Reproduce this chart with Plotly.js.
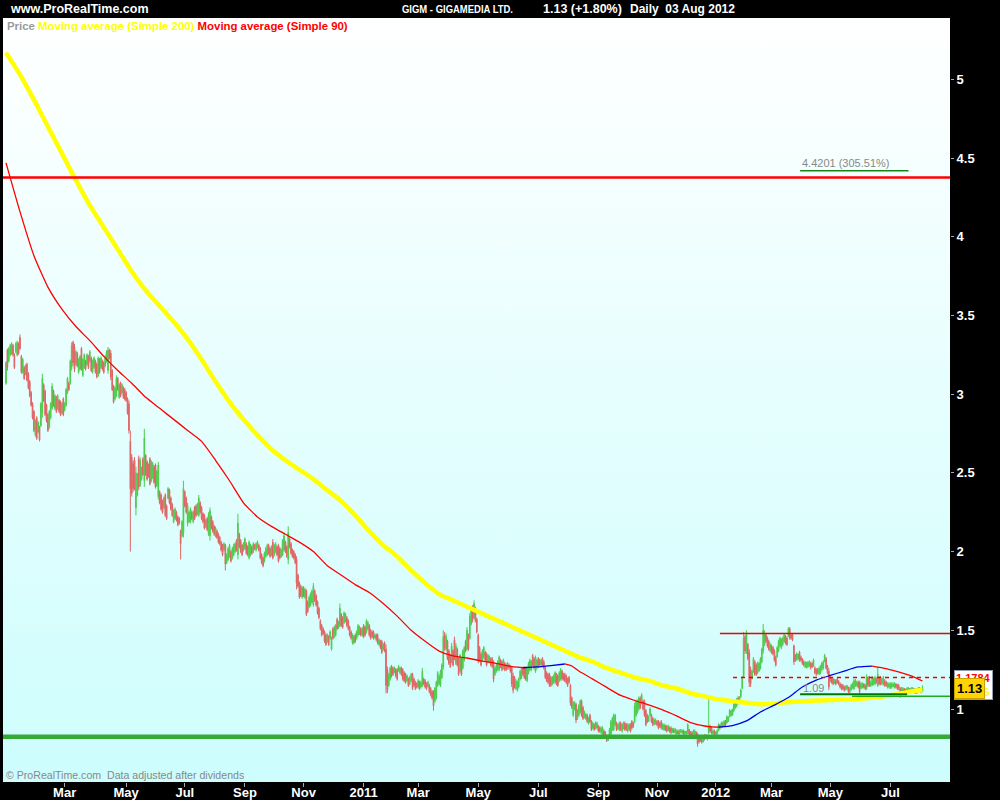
<!DOCTYPE html>
<html><head><meta charset="utf-8">
<script src="https://cdn.plot.ly/plotly-3.0.1.min.js"></script>
<style>
html,body{margin:0;padding:0;background:#000;width:1000px;height:800px;overflow:hidden}
#bg{position:absolute;left:3px;top:18px;width:947px;height:764px;background:linear-gradient(to bottom,#ffffff 0%,#cdfdfd 100%)}
#chart{position:absolute;left:0;top:0;width:1000px;height:800px}
</style></head><body>
<div id="bg"></div><div id="chart"></div>
<script>
// ---- Daily bars (bar index 0 = 28 Dec 2009 ... 656 = 03 Aug 2012) ----
const open = [
3.07,3.28,3.21,3.25,3.26,3.31,3.25,3.27,3.25,3.32,
3.36,3.24,3.14,3.17,3.13,3.19,3.13,3.08,3.01,2.94,
2.89,2.74,2.85,2.76,2.79,2.80,2.88,3.06,3.02,2.93,
2.87,2.79,2.85,2.91,3.02,2.91,2.98,2.91,2.96,2.95,
2.88,2.97,2.90,2.93,3.01,3.07,3.07,3.17,3.33,3.30,
3.19,3.26,3.14,3.16,3.29,3.12,3.17,3.21,3.19,3.24,
3.21,3.23,3.14,3.17,3.21,3.19,3.12,3.22,3.17,3.21,
3.20,3.18,3.21,3.15,3.28,3.26,3.15,3.05,2.97,2.99,
3.10,2.98,3.07,3.01,3.04,3.03,3.01,2.97,2.94,2.70,
2.60,2.56,2.58,2.28,2.36,2.59,2.42,2.46,2.59,2.45,
2.61,2.57,2.55,2.59,2.45,2.47,2.54,2.55,2.42,2.35,
2.38,2.36,2.32,2.28,2.36,2.29,2.34,2.39,2.34,2.30,
2.19,2.21,2.25,2.22,2.21,2.13,2.10,2.12,2.38,2.34,
2.18,2.19,2.19,2.25,2.19,2.28,2.29,2.24,2.23,2.31,
2.28,2.24,2.23,2.16,2.21,2.11,2.10,2.22,2.19,2.16,
2.10,2.13,2.11,2.09,2.06,2.04,2.01,2.04,1.93,1.95,
1.97,2.00,1.96,1.98,2.00,2.07,1.98,2.11,2.07,2.04,
2.01,2.02,2.05,2.03,1.96,1.98,2.03,2.00,2.04,2.01,
2.03,2.04,2.02,1.98,1.96,1.94,1.97,1.98,2.04,2.02,
1.98,2.06,1.98,2.00,2.03,2.04,2.02,1.97,1.98,2.01,
2.06,2.03,1.95,2.08,2.05,2.01,2.00,1.98,1.95,1.85,
1.80,1.78,1.71,1.77,1.71,1.75,1.68,1.65,1.66,1.68,
1.66,1.75,1.72,1.68,1.64,1.56,1.53,1.51,1.49,1.47,
1.43,1.46,1.45,1.38,1.51,1.46,1.47,1.57,1.52,1.53,
1.60,1.58,1.55,1.56,1.58,1.56,1.52,1.49,1.42,1.42,
1.47,1.45,1.47,1.48,1.51,1.47,1.53,1.52,1.49,1.51,
1.53,1.50,1.49,1.49,1.45,1.47,1.47,1.41,1.43,1.43,
1.38,1.42,1.38,1.25,1.15,1.19,1.27,1.26,1.23,1.25,
1.25,1.24,1.23,1.26,1.25,1.23,1.22,1.18,1.19,1.16,
1.18,1.22,1.19,1.17,1.16,1.14,1.17,1.14,1.15,1.19,
1.18,1.16,1.14,1.15,1.13,1.11,1.10,1.05,1.07,1.15,
1.16,1.15,1.20,1.27,1.47,1.38,1.43,1.37,1.34,1.30,
1.37,1.44,1.29,1.38,1.32,1.24,1.32,1.26,1.31,1.43,
1.38,1.47,1.45,1.54,1.65,1.58,1.64,1.57,1.47,1.39,
1.35,1.31,1.33,1.36,1.35,1.30,1.30,1.32,1.32,1.30,
1.22,1.24,1.25,1.25,1.31,1.30,1.26,1.29,1.28,1.26,
1.28,1.27,1.26,1.21,1.20,1.13,1.12,1.14,1.19,1.20,
1.26,1.26,1.26,1.18,1.23,1.25,1.25,1.34,1.32,1.24,
1.26,1.32,1.31,1.28,1.32,1.30,1.26,1.23,1.22,1.22,
1.20,1.16,1.17,1.17,1.22,1.21,1.18,1.19,1.24,1.22,
1.22,1.21,1.19,1.20,1.15,1.07,0.96,1.00,1.03,0.94,
0.96,0.98,1.05,1.01,0.95,0.94,0.96,0.91,0.96,0.92,
0.88,0.90,0.88,0.88,0.89,0.88,0.85,0.84,0.86,0.85,
0.82,0.80,0.83,0.84,0.87,0.87,0.90,0.91,0.87,0.87,
0.91,0.86,0.88,0.91,0.90,0.86,0.87,0.90,0.92,0.91,
0.92,0.96,0.98,1.00,1.07,1.04,1.05,1.05,0.99,0.96,
0.92,0.96,0.96,0.94,0.90,0.91,0.92,0.92,0.91,0.92,
0.87,0.87,0.89,0.89,0.86,0.88,0.88,0.85,0.87,0.85,
0.84,0.86,0.84,0.85,0.85,0.86,0.84,0.84,0.85,0.87,
0.85,0.85,0.84,0.84,0.85,0.84,0.81,0.82,0.81,0.79,
0.83,0.81,0.81,0.85,0.89,0.88,0.84,0.86,0.83,0.84,
0.86,0.90,0.88,0.89,0.89,0.92,0.91,0.92,0.95,0.96,
0.96,0.99,1.01,1.02,1.07,1.04,1.08,1.13,1.21,1.46,
1.36,1.41,1.36,1.25,1.19,1.24,1.30,1.28,1.23,1.24,
1.26,1.30,1.37,1.41,1.47,1.45,1.43,1.37,1.40,1.39,
1.37,1.33,1.33,1.37,1.40,1.39,1.41,1.43,1.46,1.45,
1.46,1.51,1.47,1.47,1.40,1.34,1.31,1.32,1.36,1.33,
1.32,1.30,1.27,1.26,1.27,1.27,1.29,1.29,1.27,1.26,
1.25,1.25,1.22,1.23,1.25,1.26,1.30,1.32,1.27,1.24,
1.20,1.19,1.19,1.16,1.18,1.19,1.18,1.16,1.15,1.15,
1.14,1.12,1.13,1.14,1.11,1.12,1.13,1.13,1.15,1.15,
1.17,1.17,1.13,1.14,1.16,1.15,1.13,1.20,1.20,1.15,
1.15,1.16,1.16,1.19,1.15,1.20,1.20,1.16,1.16,1.18,
1.17,1.14,1.14,1.13,1.14,1.14,1.14,1.16,1.15,1.15,
1.13,1.10,1.11,1.13,1.12,1.10,1.11,1.13,1.11,1.12,
1.13,1.12,1.10,1.11,1.12,1.13,1.11];
const high = [
3.21,3.29,3.30,3.32,3.33,3.32,3.26,3.33,3.34,3.33,
3.38,3.25,3.23,3.18,3.19,3.20,3.14,3.09,3.02,2.95,
2.90,2.84,2.86,2.83,2.80,2.95,3.13,3.07,3.03,2.94,
2.88,2.90,2.95,3.07,3.03,3.00,2.99,3.00,2.97,2.96,
2.95,2.98,2.95,3.04,3.11,3.08,3.22,3.33,3.34,3.32,
3.28,3.27,3.23,3.25,3.30,3.23,3.26,3.22,3.26,3.25,
3.28,3.24,3.22,3.24,3.22,3.20,3.24,3.23,3.24,3.22,
3.21,3.25,3.28,3.30,3.29,3.28,3.16,3.06,3.05,3.12,
3.11,3.07,3.08,3.07,3.05,3.04,3.02,2.98,2.96,2.77,
2.62,2.58,2.60,2.54,2.50,2.61,2.60,2.54,2.60,2.78,
2.62,2.58,2.56,2.60,2.58,2.57,2.55,2.56,2.52,2.57,
2.39,2.37,2.33,2.35,2.37,2.30,2.41,2.40,2.35,2.31,
2.27,2.28,2.26,2.23,2.22,2.14,2.20,2.45,2.39,2.35,
2.31,2.26,2.28,2.26,2.26,2.29,2.30,2.31,2.36,2.32,
2.29,2.25,2.24,2.21,2.22,2.25,2.28,2.23,2.20,2.17,
2.16,2.14,2.12,2.10,2.07,2.05,2.06,2.05,1.99,2.03,
2.05,2.01,2.03,2.05,2.06,2.08,2.24,2.12,2.08,2.05,
2.06,2.09,2.06,2.04,2.07,2.05,2.04,2.06,2.05,2.06,
2.07,2.05,2.03,1.99,1.97,2.00,2.03,2.05,2.05,2.03,
2.04,2.08,2.05,2.06,2.04,2.05,2.03,2.02,2.08,2.12,
2.07,2.04,2.16,2.09,2.06,2.02,2.01,1.99,1.97,1.86,
1.81,1.79,1.78,1.78,1.77,1.76,1.69,1.72,1.74,1.76,
1.80,1.76,1.73,1.69,1.65,1.57,1.54,1.52,1.50,1.48,
1.48,1.47,1.50,1.46,1.52,1.53,1.54,1.58,1.56,1.67,
1.61,1.59,1.62,1.61,1.59,1.57,1.53,1.50,1.48,1.47,
1.48,1.50,1.54,1.53,1.52,1.52,1.54,1.53,1.57,1.56,
1.54,1.51,1.50,1.50,1.48,1.48,1.48,1.45,1.44,1.44,
1.42,1.43,1.41,1.27,1.23,1.27,1.28,1.27,1.27,1.26,
1.26,1.28,1.27,1.27,1.26,1.24,1.23,1.22,1.20,1.21,
1.23,1.23,1.20,1.18,1.17,1.19,1.18,1.18,1.26,1.20,
1.19,1.17,1.18,1.16,1.14,1.12,1.12,1.14,1.18,1.24,
1.22,1.25,1.29,1.50,1.49,1.48,1.44,1.38,1.35,1.42,
1.38,1.46,1.42,1.39,1.33,1.35,1.33,1.38,1.40,1.44,
1.52,1.48,1.61,1.65,1.66,1.69,1.65,1.58,1.48,1.40,
1.36,1.38,1.40,1.37,1.36,1.35,1.34,1.33,1.33,1.31,
1.27,1.29,1.31,1.34,1.32,1.31,1.32,1.30,1.29,1.30,
1.29,1.28,1.27,1.23,1.21,1.19,1.18,1.20,1.25,1.26,
1.27,1.27,1.27,1.27,1.30,1.32,1.31,1.35,1.33,1.34,
1.32,1.33,1.32,1.32,1.33,1.31,1.27,1.24,1.23,1.23,
1.21,1.21,1.22,1.24,1.23,1.22,1.24,1.26,1.25,1.23,
1.23,1.22,1.20,1.21,1.16,1.08,1.05,1.05,1.04,1.00,
1.03,1.06,1.06,1.02,0.99,0.97,0.97,0.95,0.97,0.93,
0.92,0.91,0.92,0.92,0.90,0.89,0.89,0.89,0.87,0.86,
0.83,0.84,0.88,0.93,0.95,0.97,0.97,0.92,0.91,0.92,
0.92,0.91,0.92,0.92,0.91,0.91,0.91,0.91,0.93,0.92,
1.04,1.06,1.06,1.08,1.08,1.10,1.06,1.06,1.00,0.97,
0.96,1.01,0.97,0.95,0.94,0.94,0.93,0.93,0.92,0.93,
0.91,0.91,0.90,0.90,0.90,0.89,0.89,0.88,0.88,0.88,
0.87,0.87,0.87,0.87,0.87,0.87,0.86,0.86,0.91,0.87,
0.86,0.86,0.87,0.87,0.86,0.85,0.82,0.83,0.82,0.82,
0.84,0.84,0.83,1.07,0.90,0.89,0.87,0.87,0.86,0.87,
0.91,0.90,0.92,0.92,0.93,0.93,0.96,0.95,1.00,0.99,
1.00,1.04,1.06,1.07,1.08,1.08,1.13,1.21,1.49,1.47,
1.50,1.42,1.38,1.27,1.25,1.33,1.31,1.29,1.30,1.30,
1.33,1.39,1.54,1.50,1.48,1.46,1.44,1.42,1.41,1.40,
1.38,1.34,1.40,1.44,1.46,1.45,1.46,1.48,1.47,1.46,
1.52,1.52,1.48,1.48,1.41,1.35,1.36,1.35,1.37,1.34,
1.32,1.31,1.30,1.30,1.30,1.31,1.30,1.30,1.32,1.27,
1.26,1.26,1.27,1.28,1.30,1.31,1.35,1.33,1.28,1.26,
1.21,1.20,1.20,1.19,1.19,1.20,1.18,1.17,1.16,1.16,
1.15,1.15,1.15,1.14,1.14,1.16,1.17,1.19,1.19,1.18,
1.18,1.18,1.17,1.17,1.16,1.16,1.22,1.21,1.21,1.18,
1.21,1.20,1.21,1.20,1.27,1.21,1.21,1.20,1.21,1.19,
1.18,1.17,1.17,1.17,1.17,1.17,1.17,1.16,1.16,1.16,
1.14,1.14,1.14,1.13,1.13,1.14,1.14,1.13,1.14,1.14,
1.13,1.13,1.13,1.14,1.14,1.13,1.15];
const low = [
3.06,3.15,3.20,3.24,3.25,3.24,3.16,3.26,3.24,3.25,
3.28,3.13,3.13,3.09,3.12,3.08,3.03,2.98,2.92,2.84,
2.76,2.73,2.71,2.75,2.70,2.79,2.85,2.95,2.86,2.82,
2.76,2.78,2.84,2.90,2.92,2.90,2.88,2.90,2.88,2.86,
2.87,2.86,2.89,2.92,3.00,3.02,3.06,3.15,3.18,3.14,
3.18,3.17,3.13,3.15,3.15,3.11,3.16,3.15,3.18,3.16,
3.20,3.14,3.13,3.16,3.13,3.10,3.11,3.13,3.16,3.15,
3.13,3.17,3.20,3.13,3.22,3.09,3.02,2.94,2.96,2.98,
3.02,2.97,2.98,3.00,2.97,2.96,2.95,2.87,2.75,2.00,
2.35,2.38,2.39,2.23,2.35,2.39,2.41,2.45,2.48,2.41,
2.48,2.45,2.47,2.42,2.44,2.46,2.43,2.40,2.41,2.33,
2.30,2.26,2.24,2.27,2.22,2.20,2.33,2.30,2.26,2.22,
2.18,2.20,2.19,2.16,2.17,1.95,2.09,2.09,2.28,2.24,
2.16,2.18,2.18,2.20,2.18,2.20,2.22,2.23,2.22,2.24,
2.20,2.18,2.14,2.15,2.13,2.10,2.07,2.14,2.12,2.10,
2.09,2.08,2.05,2.04,2.00,1.97,2.00,1.88,1.92,1.94,
1.96,1.93,1.95,1.97,1.99,2.00,1.95,2.02,1.99,1.97,
2.00,2.01,1.98,1.97,1.95,1.97,1.98,1.99,2.01,2.00,
2.02,2.00,1.95,1.92,1.90,1.93,1.96,1.97,1.98,1.96,
1.97,1.95,1.97,1.99,1.97,1.93,1.95,1.96,1.97,2.00,
1.99,1.96,1.92,2.02,1.98,1.96,1.95,1.92,1.76,1.77,
1.70,1.71,1.70,1.71,1.70,1.59,1.61,1.64,1.65,1.67,
1.65,1.68,1.65,1.60,1.57,1.50,1.46,1.47,1.42,1.40,
1.42,1.40,1.44,1.37,1.44,1.45,1.46,1.50,1.51,1.52,
1.52,1.51,1.54,1.55,1.52,1.50,1.46,1.44,1.41,1.41,
1.42,1.44,1.46,1.47,1.46,1.46,1.45,1.46,1.48,1.50,
1.46,1.44,1.45,1.44,1.45,1.43,1.41,1.40,1.38,1.35,
1.37,1.36,1.10,1.10,1.14,1.18,1.20,1.21,1.23,1.20,
1.18,1.24,1.22,1.21,1.18,1.17,1.16,1.17,1.14,1.15,
1.17,1.12,1.14,1.12,1.13,1.13,1.12,1.13,1.14,1.15,
1.13,1.12,1.14,1.10,1.08,1.06,0.99,1.04,1.06,1.14,
1.15,1.14,1.19,1.25,1.37,1.37,1.31,1.28,1.26,1.29,
1.27,1.31,1.28,1.27,1.21,1.23,1.21,1.25,1.30,1.36,
1.37,1.37,1.44,1.53,1.55,1.57,1.55,1.48,1.29,1.30,
1.27,1.30,1.32,1.30,1.27,1.29,1.29,1.27,1.26,1.17,
1.21,1.23,1.24,1.24,1.26,1.24,1.25,1.24,1.24,1.25,
1.25,1.23,1.14,1.10,1.13,1.12,1.11,1.13,1.18,1.19,
1.21,1.19,1.18,1.17,1.22,1.24,1.24,1.27,1.25,1.23,
1.25,1.26,1.27,1.27,1.27,1.25,1.19,1.17,1.16,1.14,
1.14,1.15,1.16,1.16,1.15,1.14,1.17,1.18,1.18,1.18,
1.17,1.16,1.14,1.16,1.02,1.00,0.95,0.99,0.91,0.93,
0.95,0.97,0.95,0.93,0.94,0.93,0.91,0.90,0.91,0.86,
0.87,0.86,0.87,0.87,0.85,0.85,0.84,0.83,0.82,0.81,
0.79,0.80,0.82,0.83,0.86,0.86,0.89,0.86,0.87,0.86,
0.86,0.85,0.87,0.86,0.86,0.85,0.86,0.85,0.87,0.88,
0.91,0.95,0.97,0.99,1.00,1.03,0.99,0.95,0.89,0.91,
0.92,0.95,0.91,0.89,0.90,0.90,0.89,0.87,0.88,0.87,
0.87,0.86,0.86,0.85,0.86,0.85,0.84,0.85,0.85,0.84,
0.84,0.84,0.84,0.85,0.84,0.84,0.84,0.84,0.84,0.83,
0.83,0.82,0.84,0.84,0.82,0.76,0.78,0.79,0.78,0.79,
0.80,0.81,0.80,0.84,0.85,0.84,0.84,0.83,0.83,0.84,
0.86,0.87,0.88,0.88,0.89,0.89,0.91,0.92,0.95,0.95,
0.96,0.98,1.00,1.01,1.03,1.03,1.07,1.13,1.20,1.35,
1.35,1.31,1.14,1.14,1.19,1.23,1.21,1.21,1.22,1.24,
1.25,1.29,1.35,1.40,1.42,1.39,1.37,1.36,1.35,1.34,
1.30,1.27,1.33,1.36,1.39,1.38,1.40,1.42,1.41,1.40,
1.46,1.44,1.44,1.43,1.28,1.30,1.31,1.31,1.30,1.30,
1.28,1.27,1.26,1.26,1.26,1.27,1.25,1.26,1.27,1.22,
1.21,1.22,1.22,1.22,1.24,1.25,1.30,1.25,1.22,1.12,
1.17,1.16,1.15,1.16,1.15,1.16,1.15,1.13,1.12,1.12,
1.11,1.12,1.12,1.10,1.10,1.12,1.13,1.12,1.14,1.14,
1.13,1.09,1.13,1.13,1.13,1.12,1.12,1.14,1.14,1.14,
1.15,1.15,1.15,1.16,1.14,1.15,1.15,1.15,1.15,1.14,
1.14,1.13,1.13,1.13,1.13,1.14,1.13,1.13,1.12,1.12,
1.07,1.10,1.11,1.10,1.09,1.10,1.11,1.10,1.11,1.11,
1.10,1.10,1.10,1.11,1.11,1.10,1.11];
const close = [
3.20,3.17,3.29,3.31,3.32,3.25,3.17,3.32,3.33,3.26,
3.29,3.14,3.22,3.10,3.18,3.09,3.04,2.99,2.93,2.85,
2.77,2.83,2.72,2.82,2.71,2.94,3.10,2.96,2.87,2.83,
2.77,2.89,2.94,3.05,2.93,2.99,2.89,2.99,2.89,2.87,
2.94,2.87,2.94,3.03,3.10,3.03,3.21,3.31,3.20,3.16,
3.27,3.18,3.22,3.24,3.16,3.22,3.25,3.16,3.25,3.17,
3.27,3.15,3.21,3.23,3.14,3.11,3.23,3.14,3.23,3.16,
3.14,3.24,3.27,3.28,3.23,3.11,3.03,2.95,3.04,3.10,
3.03,3.06,2.99,3.06,2.98,2.97,2.96,2.88,2.77,2.40,
2.37,2.40,2.41,2.50,2.49,2.41,2.58,2.53,2.49,2.72,
2.49,2.46,2.48,2.43,2.57,2.56,2.44,2.41,2.51,2.55,
2.31,2.27,2.25,2.34,2.23,2.21,2.40,2.31,2.27,2.23,
2.26,2.27,2.20,2.17,2.18,2.05,2.19,2.40,2.29,2.25,
2.29,2.25,2.27,2.21,2.25,2.21,2.23,2.30,2.34,2.25,
2.21,2.19,2.15,2.20,2.14,2.23,2.26,2.15,2.13,2.11,
2.15,2.09,2.06,2.05,2.01,1.98,2.05,1.92,1.98,2.02,
2.04,1.94,2.02,2.04,2.05,2.01,2.18,2.03,2.00,1.98,
2.05,2.08,1.99,1.98,2.06,2.04,1.99,2.05,2.02,2.05,
2.06,2.01,1.96,1.93,1.91,1.99,2.02,2.04,1.99,1.97,
2.03,1.96,2.04,2.05,1.98,1.94,1.96,2.01,2.07,2.10,
2.00,1.97,2.12,2.03,1.99,1.97,1.96,1.93,1.80,1.78,
1.71,1.72,1.77,1.72,1.76,1.60,1.62,1.71,1.73,1.75,
1.78,1.69,1.66,1.61,1.58,1.51,1.47,1.48,1.43,1.41,
1.47,1.41,1.49,1.45,1.45,1.52,1.53,1.51,1.55,1.64,
1.53,1.52,1.61,1.60,1.53,1.51,1.47,1.45,1.47,1.46,
1.43,1.49,1.53,1.52,1.47,1.51,1.46,1.47,1.56,1.55,
1.47,1.45,1.46,1.45,1.47,1.44,1.42,1.44,1.39,1.36,
1.41,1.37,1.15,1.12,1.22,1.26,1.21,1.22,1.26,1.21,
1.19,1.27,1.26,1.22,1.19,1.18,1.17,1.21,1.15,1.20,
1.22,1.13,1.15,1.13,1.14,1.18,1.13,1.17,1.24,1.16,
1.14,1.13,1.17,1.11,1.09,1.07,1.02,1.13,1.17,1.23,
1.21,1.24,1.28,1.46,1.39,1.46,1.32,1.29,1.27,1.40,
1.28,1.33,1.40,1.28,1.22,1.34,1.22,1.37,1.39,1.37,
1.50,1.38,1.59,1.63,1.57,1.67,1.56,1.49,1.31,1.31,
1.28,1.37,1.39,1.31,1.28,1.34,1.33,1.28,1.27,1.19,
1.26,1.28,1.30,1.33,1.27,1.25,1.31,1.25,1.25,1.29,
1.26,1.24,1.16,1.12,1.14,1.18,1.17,1.19,1.24,1.25,
1.22,1.20,1.19,1.26,1.29,1.31,1.30,1.28,1.26,1.33,
1.31,1.27,1.28,1.31,1.28,1.26,1.20,1.18,1.17,1.15,
1.15,1.20,1.21,1.23,1.16,1.15,1.23,1.25,1.19,1.19,
1.18,1.17,1.15,1.17,1.04,1.01,1.04,1.04,0.93,0.99,
1.02,1.05,0.96,0.94,0.98,0.97,0.92,0.94,0.92,0.87,
0.91,0.87,0.91,0.91,0.86,0.86,0.88,0.88,0.83,0.82,
0.80,0.83,0.87,0.92,0.94,0.96,0.96,0.87,0.90,0.91,
0.87,0.90,0.91,0.87,0.87,0.90,0.90,0.86,0.88,0.89,
1.02,1.05,1.05,1.07,1.01,1.09,1.00,0.96,0.90,0.92,
0.95,1.00,0.92,0.90,0.93,0.93,0.90,0.88,0.89,0.88,
0.90,0.90,0.87,0.86,0.89,0.86,0.85,0.87,0.85,0.87,
0.86,0.84,0.86,0.87,0.86,0.84,0.86,0.86,0.90,0.84,
0.83,0.83,0.86,0.86,0.83,0.78,0.79,0.80,0.79,0.81,
0.81,0.83,0.83,0.89,0.86,0.85,0.86,0.84,0.85,0.86,
0.90,0.88,0.91,0.91,0.92,0.90,0.95,0.95,0.99,0.99,
1.00,1.03,1.05,1.06,1.04,1.08,1.12,1.20,1.45,1.37,
1.48,1.32,1.17,1.16,1.24,1.32,1.22,1.22,1.29,1.29,
1.32,1.38,1.50,1.48,1.43,1.40,1.38,1.41,1.36,1.35,
1.31,1.28,1.39,1.43,1.45,1.44,1.45,1.47,1.42,1.41,
1.51,1.45,1.45,1.44,1.30,1.31,1.35,1.35,1.31,1.31,
1.29,1.28,1.30,1.29,1.30,1.30,1.26,1.27,1.31,1.23,
1.22,1.23,1.26,1.27,1.29,1.30,1.34,1.26,1.23,1.14,
1.18,1.17,1.16,1.18,1.16,1.17,1.16,1.14,1.13,1.13,
1.12,1.14,1.15,1.11,1.13,1.15,1.16,1.18,1.18,1.17,
1.14,1.11,1.16,1.16,1.14,1.13,1.20,1.15,1.15,1.17,
1.20,1.19,1.20,1.17,1.22,1.16,1.16,1.19,1.20,1.15,
1.15,1.16,1.16,1.16,1.16,1.16,1.16,1.14,1.13,1.13,
1.09,1.13,1.13,1.11,1.10,1.13,1.13,1.11,1.13,1.13,
1.11,1.10,1.12,1.13,1.13,1.11,1.13];

// ---- Moving averages (bar index, price) ----
const ma200Idx = [0,10,20,30,40,50,60,70,80,90,100,110,120,130,140,150,160,170,180,190,200,210,220,230,240,250,260,270,280,290,300,310,320,330,340,350,360,370,380,390,400,410,420,430,440,450,460,470,480,490,500,510,520,530,540,550,560,570,580,590,600,610,620,630,640,650,656];
const ma200 = [5.17,5.03,4.87,4.70,4.53,4.36,4.20,4.06,3.92,3.78,3.66,3.56,3.46,3.35,3.22,3.08,2.95,2.84,2.74,2.65,2.58,2.52,2.46,2.39,2.32,2.23,2.13,2.04,1.97,1.88,1.80,1.73,1.69,1.65,1.61,1.57,1.53,1.49,1.45,1.41,1.37,1.33,1.30,1.26,1.23,1.20,1.18,1.15,1.13,1.10,1.08,1.06,1.05,1.04,1.03,1.035,1.044,1.048,1.054,1.057,1.060,1.064,1.073,1.083,1.098,1.114,1.12];
const ma90Idx = [0,10,20,30,40,50,60,70,80,90,100,110,120,130,140,150,160,170,180,190,200,210,220,230,240,250,260,270,280,290,300,310,320,330,340,350,360,370,380,390,400,405,410,420,430,440,450,460,470,480,490,500,505,510,520,530,540,550,560,570,580,590,600,610,620,630,640,650,656];
const ma90 = [4.47,4.16,3.88,3.68,3.54,3.43,3.34,3.24,3.15,3.07,2.98,2.91,2.84,2.77,2.70,2.58,2.45,2.31,2.22,2.16,2.11,2.06,2.00,1.91,1.85,1.79,1.74,1.67,1.59,1.50,1.43,1.368,1.337,1.324,1.306,1.292,1.273,1.262,1.267,1.276,1.286,1.273,1.241,1.19,1.137,1.086,1.054,1.026,0.994,0.956,0.914,0.892,0.886,0.885,0.895,0.924,0.981,1.025,1.073,1.140,1.184,1.213,1.241,1.267,1.273,1.257,1.232,1.203,1.178];

// ---- Axis ticks ----
const monthTickIdx = [42,86,128,171,213,256,295,338,381,424,466,508,548,590,633];
const monthTickText = ['Mar','May','Jul','Sep','Nov','2011','Mar','May','Jul','Sep','Nov','2012','Mar','May','Jul'];
const priceTicks = [1,1.5,2,2.5,3,3.5,4,4.5,5];
const priceTickText = ['1','1.5','2','2.5','3','3.5','4','4.5','5'];

// ---- Drawn levels (price) and their start/end bars ----
const levelNames  = ['resistance','support','range top','range mid','support 1.09','support low','target'];
const levelPrices = [4.376, 0.824, 1.48, 1.20, 1.093, 1.081, 4.4201];
const levelStart  = [-2.15, -2.15, 511, 520.4, 568.4, 605.6, 568.4];
const levelEnd    = [675.7, 675.7, 675.7, 675.7, 645, 675.7, 646];
const lastValues = {ma90:'1.1784', ma200:'1.0996', price:'1.13'};

const FONT = 'Liberation Sans, Arial, Helvetica, sans-serif';
const X0 = 3, X1 = 950, Y0 = 18, Y1 = 782;
const px = X => (X - X0) / (X1 - X0);
const py = Y => (Y1 - Y) / (Y1 - Y0);
const GREEN = '#4dcc4d', RED = '#e06464';

const idx = open.map((_, i) => i);
const traces = [{
  type: 'candlestick', x: idx, open: open, high: high, low: low, close: close,
  increasing: {line: {color: GREEN, width: 1}, fillcolor: GREEN},
  decreasing: {line: {color: RED, width: 1}, fillcolor: RED},
  whiskerwidth: 0, hoverinfo: 'skip', showlegend: false
}, {
  type: 'scatter', mode: 'lines', x: ma200Idx, y: ma200,
  line: {color: '#ffff00', width: 4.5, shape: 'spline', smoothing: 0.8},
  hoverinfo: 'skip', showlegend: false
}];
// MA90: blue while rising, red while falling
let seg = null;
for (let k = 0; k < ma90.length - 1; k++) {
  const col = ma90[k + 1] > ma90[k] ? '#0000dd' : '#ff0000';
  if (!seg || seg.line.color !== col) {
    seg = {type: 'scatter', mode: 'lines', x: [ma90Idx[k]], y: [ma90[k]],
           line: {color: col, width: 1.3, shape: 'spline', smoothing: 0.5}, hoverinfo: 'skip', showlegend: false};
    traces.push(seg);
  }
  seg.x.push(ma90Idx[k + 1]); seg.y.push(ma90[k + 1]);
}

const lvStyle = [
  {color: '#ff0000', width: 2.5},
  {color: '#33aa33', width: 4.5},
  {color: '#ee0000', width: 1.5},
  {color: '#ee0000', width: 1.5, dash: '4px,4px'},
  {color: '#007700', width: 2},
  {color: '#22aa22', width: 1.5},
  {color: '#118811', width: 1.5}
];
const shapes = levelPrices.map((p, k) => ({
  type: 'line', xref: 'x', yref: 'y', x0: levelStart[k], x1: levelEnd[k], y0: p, y1: p,
  line: lvStyle[k], layer: 'above'
}));

const txt = (t, X, Y, size, color) => ({
  text: t, xref: 'paper', yref: 'paper', x: px(X), y: py(Y), xanchor: 'left', yanchor: 'middle',
  showarrow: false, font: {family: FONT, size: size, color: color}, borderpad: 0
});

const annotations = [
  txt('<b>www.ProRealTime.com</b>', 9, 9, 12.5, '#ffffff'),
  txt('<b>GIGM - GIGAMEDIA LTD.</b>', 392, 9, 11, '#ffffff'),
  txt('<b>1.13 (+1.80%)</b>', 542, 9, 12.5, '#ffffff'),
  txt('<b>Daily\u00a0 03 Aug 2012</b>', 629, 9, 12, '#ffffff'),
  txt('<b><span style="color:#999999">Price</span> <span style="color:#ffff00">Moving average (Simple 200)</span> <span style="color:#ff0000">Moving average (Simple 90)</span></b>', 6, 26, 11.4, '#999999'),
  txt('\u00a9 ProRealTime.com\u00a0 Data adjusted after dividends', 5, 775, 10.6, '#888888'),
  txt(levelPrices[6].toFixed(4) + ' (305.51%)', 801, 163, 11, '#888888'),
  txt(levelPrices[4].toFixed(2), 802, 688, 11, '#888888'),
  {text: '<b><span style="color:#ff0000">' + lastValues.ma90 + '</span><br><span style="color:#ffff00">' + lastValues.ma200 + '</span></b>',
   xref: 'paper', yref: 'y', x: px(954), y: 1.152, xanchor: 'left', yanchor: 'middle', align: 'left',
   showarrow: false, font: {family: FONT, size: 11, color: '#ff0000'}, bgcolor: '#ffffff',
   bordercolor: '#8fa0b0', borderwidth: 1, borderpad: 1},
  {text: '<b>' + lastValues.price + '</b>', xref: 'paper', yref: 'y', x: px(954), y: 1.128,
   xanchor: 'left', yanchor: 'middle', showarrow: false,
   font: {family: FONT, size: 13, color: '#000000'}, bgcolor: '#ffd400',
   bordercolor: '#c8a000', borderwidth: 1, borderpad: 2}
];

const layout = {
  width: 1000, height: 800,
  margin: {l: 3, r: 50, t: 18, b: 18, pad: 0},
  paper_bgcolor: 'rgba(0,0,0,0)', plot_bgcolor: 'rgba(0,0,0,0)',
  showlegend: false, hovermode: false, dragmode: false,
  font: {family: FONT},
  xaxis: {range: [-2.15, 675.7], tickmode: 'array', tickvals: monthTickIdx, ticktext: monthTickText,
          ticks: 'outside', ticklen: 4, tickcolor: '#aaaaaa', tickwidth: 1, ticklabelstandoff: -6,
          tickfont: {family: FONT, size: 13, color: '#ffffff', weight: 'bold'},
          showgrid: false, zeroline: false, showline: false, rangeslider: {visible: false}, fixedrange: true},
  yaxis: {side: 'right', range: [0.5362, 5.390], tickmode: 'array', tickvals: priceTicks, ticktext: priceTickText,
          ticks: 'outside', ticklen: 3, tickcolor: '#aaaaaa', tickwidth: 1,
          tickfont: {family: FONT, size: 13, color: '#ffffff', weight: 'bold'},
          showgrid: false, zeroline: false, showline: false, fixedrange: true},
  shapes: shapes, annotations: annotations
};

Plotly.newPlot('chart', traces, layout, {displayModeBar: false, staticPlot: true}).then(gd => {
  // the reference title uses a condensed face: squeeze it to its original width
  gd.querySelectorAll('.annotation-text').forEach(t => {
    if (t.textContent.indexOf('GIGAMEDIA') >= 0) {
      t.setAttribute('textLength', '111');
      t.setAttribute('lengthAdjust', 'spacingAndGlyphs');
    }
  });
});
</script></body></html>
